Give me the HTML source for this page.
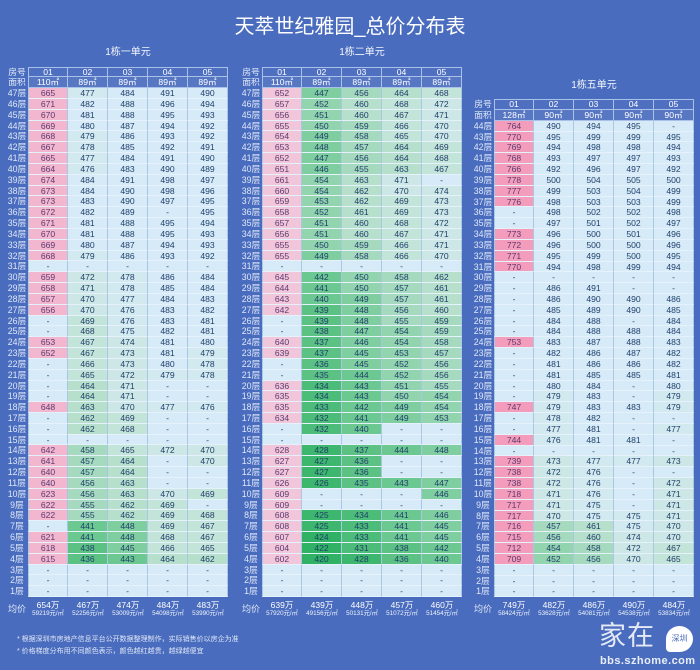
<!DOCTYPE html>
<html><head><meta charset="utf-8">
<style>
html,body{margin:0;padding:0}
body{width:700px;height:670px;background:#4a6cbe;position:relative;overflow:hidden;font-family:"Liberation Sans","Noto Sans CJK SC",sans-serif;}
.title{position:absolute;left:0;width:700px;top:16px;text-align:center;color:#fff;font-size:20px;line-height:22px;}
.sub{position:absolute;width:200px;text-align:center;color:#f2f6fd;font-size:10px;line-height:12px;}
.t{position:absolute;display:grid;grid-template-columns:22px repeat(5,40px);grid-auto-rows:10.84px;}
.t>*{font-style:normal;font-weight:normal;text-decoration:none;font-size:8.6px;line-height:10px;text-align:center;white-space:nowrap;box-sizing:border-box;}
.t i{color:#dfe8f8;font-size:8.8px;line-height:10.84px;}
.t u{color:#fff;border-right:1px solid #a9c0e8;border-bottom:1px solid #a9c0e8;line-height:10px;background:rgba(255,255,255,0.03)}
.t u.h{border-top:1px solid #a9c0e8;line-height:9px}
.t u.a{background:rgba(255,255,255,0.08)}
.t b{background:#d6ebf7;color:#22406c;border-right:1px solid #a9c6e2;border-bottom:1px solid #e6f2fb;}
.t>:nth-child(6n+2){border-left:1px solid #a9c6e2}
.t u:nth-child(6n+2){border-left:1px solid #a9c0e8}
.t1 .p{background:#f2b6cf;color:#5b3a6e}
.t2 .p{background:#f1c6da;color:#5b3a6e}
.t3 .p{background:#f39cbb;color:#5b3a6e}
.c0{background:#2fb264!important}
.c1{background:#3cb76d!important}
.c2{background:#4bbd78!important}
.c3{background:#5bc284!important}
.c4{background:#6cc891!important}
.c5{background:#7ece9f!important}
.c6{background:#91d4ae!important}
.c7{background:#a5dabe!important}
.c8{background:#b6dfcc!important}
.c9{background:#c3e4d9!important}
.c10{background:#cce7e5!important}
.c11{background:#d2e9ef!important}
.avg{position:absolute;display:grid;grid-template-columns:22px repeat(5,40px);height:22px;color:#fff;}
.avg i{font-style:normal;font-size:9px;line-height:22px;text-align:center;color:#dfe8f8}
.avg span{text-align:center;font-size:8.5px;line-height:9px;padding-top:3px;white-space:nowrap}
.avg small{display:block;font-size:6.3px;line-height:7px;white-space:nowrap;color:#eef3fc}
.note{position:absolute;left:17px;color:#dfe7f7;font-size:7px;line-height:9px;white-space:nowrap}
.logo{position:absolute;left:599px;top:618px;color:rgba(255,255,255,0.85);font-size:27px;line-height:32px;font-family:"Noto Sans CJK SC",sans-serif;letter-spacing:1px}
.bub{position:absolute;left:666px;top:626px;width:27px;height:26px;background:#fff;border-radius:50% 50% 50% 15%;color:#4a6cbe;font-size:8px;line-height:26px;text-align:center;font-family:"Noto Sans CJK SC",sans-serif}
.url{position:absolute;left:600px;top:655px;color:#e8eef8;font-size:11px;font-weight:bold;line-height:13px;letter-spacing:0.45px}
</style></head><body>
<div class="title">天萃世纪雅园_总价分布表</div>
<div class="sub" style="left:28px;top:47px">1栋一单元</div>
<div class="sub" style="left:262px;top:47px">1栋二单元</div>
<div class="sub" style="left:494px;top:80px">1栋五单元</div>

<div class="t t1" style="left:6px;top:66.5px">
<i>房号</i><u class="h">01</u><u class="h">02</u><u class="h">03</u><u class="h">04</u><u class="h">05</u>
<i>面积</i><u class="a">110㎡</u><u class="a">89㎡</u><u class="a">89㎡</u><u class="a">89㎡</u><u class="a">89㎡</u>
<i>47层</i><b class=p>665</b><b class=c11>477</b><b>484</b><b>491</b><b>490</b>
<i>46层</i><b class=p>671</b><b>482</b><b>488</b><b>496</b><b>494</b>
<i>45层</i><b class=p>670</b><b>481</b><b>488</b><b>495</b><b>493</b>
<i>44层</i><b class=p>669</b><b>480</b><b>487</b><b>494</b><b>492</b>
<i>43层</i><b class=p>668</b><b class=c11>479</b><b>486</b><b>493</b><b>492</b>
<i>42层</i><b class=p>667</b><b class=c11>478</b><b>485</b><b>492</b><b>491</b>
<i>41层</i><b class=p>665</b><b class=c11>477</b><b>484</b><b>491</b><b>490</b>
<i>40层</i><b class=p>664</b><b class=c11>476</b><b>483</b><b>490</b><b>489</b>
<i>39层</i><b class=p>674</b><b>484</b><b>491</b><b>498</b><b>497</b>
<i>38层</i><b class=p>673</b><b>484</b><b>490</b><b>498</b><b>496</b>
<i>37层</i><b class=p>673</b><b>483</b><b>490</b><b>497</b><b>495</b>
<i>36层</i><b class=p>672</b><b>482</b><b>489</b><b>-</b><b>495</b>
<i>35层</i><b class=p>671</b><b>481</b><b>488</b><b>495</b><b>494</b>
<i>34层</i><b class=p>670</b><b>481</b><b>488</b><b>495</b><b>493</b>
<i>33层</i><b class=p>669</b><b>480</b><b>487</b><b>494</b><b>493</b>
<i>32层</i><b class=p>668</b><b class=c11>479</b><b>486</b><b>493</b><b>492</b>
<i>31层</i><b>-</b><b>-</b><b>-</b><b>-</b><b>-</b>
<i>30层</i><b class=p>659</b><b class=c10>472</b><b class=c11>478</b><b>486</b><b>484</b>
<i>29层</i><b class=p>658</b><b class=c10>471</b><b class=c11>478</b><b>485</b><b>484</b>
<i>28层</i><b class=p>657</b><b class=c10>470</b><b class=c11>477</b><b>484</b><b>483</b>
<i>27层</i><b class=p>656</b><b class=c10>470</b><b class=c11>476</b><b>483</b><b>482</b>
<i>26层</i><b>-</b><b class=c9>469</b><b class=c11>476</b><b>483</b><b>481</b>
<i>25层</i><b>-</b><b class=c9>468</b><b class=c11>475</b><b>482</b><b>481</b>
<i>24层</i><b class=p>653</b><b class=c9>467</b><b class=c10>474</b><b>481</b><b>480</b>
<i>23层</i><b class=p>652</b><b class=c9>467</b><b class=c10>473</b><b>481</b><b class=c11>479</b>
<i>22层</i><b>-</b><b class=c9>466</b><b class=c10>473</b><b>480</b><b class=c11>478</b>
<i>21层</i><b>-</b><b class=c9>465</b><b class=c10>472</b><b class=c11>479</b><b class=c11>478</b>
<i>20层</i><b>-</b><b class=c8>464</b><b class=c10>471</b><b>-</b><b>-</b>
<i>19层</i><b>-</b><b class=c8>464</b><b class=c10>471</b><b>-</b><b>-</b>
<i>18层</i><b class=p>648</b><b class=c8>463</b><b class=c10>470</b><b class=c11>477</b><b class=c11>476</b>
<i>17层</i><b>-</b><b class=c8>462</b><b class=c9>469</b><b>-</b><b>-</b>
<i>16层</i><b>-</b><b class=c8>462</b><b class=c9>468</b><b>-</b><b>-</b>
<i>15层</i><b>-</b><b>-</b><b>-</b><b>-</b><b>-</b>
<i>14层</i><b class=p>642</b><b class=c7>458</b><b class=c9>465</b><b class=c10>472</b><b class=c10>470</b>
<i>13层</i><b class=p>641</b><b class=c7>457</b><b class=c8>464</b><b>-</b><b class=c10>470</b>
<i>12层</i><b class=p>640</b><b class=c7>457</b><b class=c8>464</b><b>-</b><b>-</b>
<i>11层</i><b class=p>640</b><b class=c7>456</b><b class=c8>463</b><b>-</b><b>-</b>
<i>10层</i><b class=p>623</b><b class=c7>456</b><b class=c8>463</b><b class=c10>470</b><b class=c9>469</b>
<i>9层</i><b class=p>622</b><b class=c7>455</b><b class=c8>462</b><b class=c9>469</b><b>-</b>
<i>8层</i><b class=p>622</b><b class=c7>455</b><b class=c8>462</b><b class=c9>469</b><b class=c9>468</b>
<i>7层</i><b>-</b><b class=c4>441</b><b class=c5>448</b><b class=c9>469</b><b class=c9>467</b>
<i>6层</i><b class=p>621</b><b class=c4>441</b><b class=c5>448</b><b class=c9>468</b><b class=c9>467</b>
<i>5层</i><b class=p>618</b><b class=c3>438</b><b class=c5>445</b><b class=c9>466</b><b class=c9>465</b>
<i>4层</i><b class=p>615</b><b class=c3>436</b><b class=c4>443</b><b class=c8>464</b><b class=c8>462</b>
<i>3层</i><b>-</b><b>-</b><b>-</b><b>-</b><b>-</b>
<i>2层</i><b>-</b><b>-</b><b>-</b><b>-</b><b>-</b>
<i>1层</i><b>-</b><b>-</b><b>-</b><b>-</b><b>-</b>
</div>
<div class="avg" style="left:6px;top:598px"><i>均价</i><span>654万<small>59219元/㎡</small></span><span>467万<small>52256元/㎡</small></span><span>474万<small>53009元/㎡</small></span><span>484万<small>54098元/㎡</small></span><span>483万<small>53990元/㎡</small></span></div>

<div class="t t2" style="left:240px;top:66.5px">
<i>房号</i><u class="h">01</u><u class="h">02</u><u class="h">03</u><u class="h">04</u><u class="h">05</u>
<i>面积</i><u class="a">110㎡</u><u class="a">89㎡</u><u class="a">89㎡</u><u class="a">89㎡</u><u class="a">89㎡</u>
<i>47层</i><b class=p>652</b><b class=c5>447</b><b class=c7>456</b><b class=c8>464</b><b class=c9>468</b>
<i>46层</i><b class=p>657</b><b class=c6>452</b><b class=c8>460</b><b class=c9>468</b><b class=c10>472</b>
<i>45层</i><b class=p>656</b><b class=c6>451</b><b class=c8>460</b><b class=c9>467</b><b class=c10>471</b>
<i>44层</i><b class=p>655</b><b class=c6>450</b><b class=c7>459</b><b class=c9>466</b><b class=c10>470</b>
<i>43层</i><b class=p>654</b><b class=c5>449</b><b class=c7>458</b><b class=c9>465</b><b class=c10>470</b>
<i>42层</i><b class=p>653</b><b class=c5>448</b><b class=c7>457</b><b class=c8>464</b><b class=c9>469</b>
<i>41层</i><b class=p>652</b><b class=c5>447</b><b class=c7>456</b><b class=c8>464</b><b class=c9>468</b>
<i>40层</i><b class=p>651</b><b class=c5>446</b><b class=c7>455</b><b class=c8>463</b><b class=c9>467</b>
<i>39层</i><b class=p>661</b><b class=c6>454</b><b class=c8>463</b><b class=c10>471</b><b>-</b>
<i>38层</i><b class=p>660</b><b class=c6>454</b><b class=c8>462</b><b class=c10>470</b><b class=c10>474</b>
<i>37层</i><b class=p>659</b><b class=c6>453</b><b class=c8>462</b><b class=c9>469</b><b class=c10>473</b>
<i>36层</i><b class=p>658</b><b class=c6>452</b><b class=c8>461</b><b class=c9>469</b><b class=c10>473</b>
<i>35层</i><b class=p>657</b><b class=c6>451</b><b class=c8>460</b><b class=c9>468</b><b class=c10>472</b>
<i>34层</i><b class=p>656</b><b class=c6>451</b><b class=c8>460</b><b class=c9>467</b><b class=c10>471</b>
<i>33层</i><b class=p>655</b><b class=c6>450</b><b class=c7>459</b><b class=c9>466</b><b class=c10>471</b>
<i>32层</i><b class=p>655</b><b class=c5>449</b><b class=c7>458</b><b class=c9>466</b><b class=c10>470</b>
<i>31层</i><b>-</b><b>-</b><b>-</b><b>-</b><b>-</b>
<i>30层</i><b class=p>645</b><b class=c4>442</b><b class=c6>450</b><b class=c7>458</b><b class=c8>462</b>
<i>29层</i><b class=p>644</b><b class=c4>441</b><b class=c6>450</b><b class=c7>457</b><b class=c8>461</b>
<i>28层</i><b class=p>643</b><b class=c4>440</b><b class=c5>449</b><b class=c7>457</b><b class=c8>461</b>
<i>27层</i><b class=p>642</b><b class=c3>439</b><b class=c5>448</b><b class=c7>456</b><b class=c8>460</b>
<i>26层</i><b>-</b><b class=c3>439</b><b class=c5>448</b><b class=c7>455</b><b class=c7>459</b>
<i>25层</i><b>-</b><b class=c3>438</b><b class=c5>447</b><b class=c6>454</b><b class=c7>459</b>
<i>24层</i><b class=p>640</b><b class=c3>437</b><b class=c5>446</b><b class=c6>454</b><b class=c7>458</b>
<i>23层</i><b class=p>639</b><b class=c3>437</b><b class=c5>445</b><b class=c6>453</b><b class=c7>457</b>
<i>22层</i><b>-</b><b class=c3>436</b><b class=c5>445</b><b class=c6>452</b><b class=c7>456</b>
<i>21层</i><b>-</b><b class=c3>435</b><b class=c4>444</b><b class=c6>452</b><b class=c7>456</b>
<i>20层</i><b class=p>636</b><b class=c2>434</b><b class=c4>443</b><b class=c6>451</b><b class=c7>455</b>
<i>19层</i><b class=p>635</b><b class=c2>434</b><b class=c4>443</b><b class=c6>450</b><b class=c6>454</b>
<i>18层</i><b class=p>635</b><b class=c2>433</b><b class=c4>442</b><b class=c5>449</b><b class=c6>454</b>
<i>17层</i><b class=p>634</b><b class=c2>432</b><b class=c4>441</b><b class=c5>449</b><b class=c6>453</b>
<i>16层</i><b>-</b><b class=c2>432</b><b class=c4>440</b><b>-</b><b>-</b>
<i>15层</i><b>-</b><b>-</b><b>-</b><b>-</b><b>-</b>
<i>14层</i><b class=p>628</b><b class=c1>428</b><b class=c3>437</b><b class=c4>444</b><b class=c5>448</b>
<i>13层</i><b class=p>627</b><b class=c1>427</b><b class=c3>436</b><b>-</b><b>-</b>
<i>12层</i><b class=p>627</b><b class=c1>427</b><b class=c3>436</b><b>-</b><b>-</b>
<i>11层</i><b class=p>626</b><b class=c1>426</b><b class=c3>435</b><b class=c4>443</b><b class=c5>447</b>
<i>10层</i><b class=p>609</b><b>-</b><b>-</b><b>-</b><b class=c5>446</b>
<i>9层</i><b class=p>609</b><b>-</b><b>-</b><b>-</b><b>-</b>
<i>8层</i><b class=p>608</b><b class=c1>425</b><b class=c2>434</b><b class=c4>441</b><b class=c5>446</b>
<i>7层</i><b class=p>608</b><b class=c1>425</b><b class=c2>433</b><b class=c4>441</b><b class=c5>445</b>
<i>6层</i><b class=p>607</b><b class=c0>424</b><b class=c2>433</b><b class=c4>441</b><b class=c5>445</b>
<i>5层</i><b class=p>604</b><b class=c0>422</b><b class=c2>431</b><b class=c3>438</b><b class=c4>442</b>
<i>4层</i><b class=p>602</b><b class=c0>420</b><b class=c1>428</b><b class=c3>436</b><b class=c4>440</b>
<i>3层</i><b>-</b><b>-</b><b>-</b><b>-</b><b>-</b>
<i>2层</i><b>-</b><b>-</b><b>-</b><b>-</b><b>-</b>
<i>1层</i><b>-</b><b>-</b><b>-</b><b>-</b><b>-</b>
</div>
<div class="avg" style="left:240px;top:598px"><i>均价</i><span>639万<small>57920元/㎡</small></span><span>439万<small>49156元/㎡</small></span><span>448万<small>50131元/㎡</small></span><span>457万<small>51072元/㎡</small></span><span>460万<small>51454元/㎡</small></span></div>

<div class="t t3" style="left:472px;top:99.1px">
<i>房号</i><u class="h">01</u><u class="h">02</u><u class="h">03</u><u class="h">04</u><u class="h">05</u>
<i>面积</i><u class="a">128㎡</u><u class="a">90㎡</u><u class="a">90㎡</u><u class="a">90㎡</u><u class="a">90㎡</u>
<i>44层</i><b class=p>764</b><b>490</b><b>494</b><b>495</b><b>-</b>
<i>43层</i><b class=p>770</b><b>495</b><b>499</b><b>499</b><b>495</b>
<i>42层</i><b class=p>769</b><b>494</b><b>498</b><b>498</b><b>494</b>
<i>41层</i><b class=p>768</b><b>493</b><b>497</b><b>497</b><b>493</b>
<i>40层</i><b class=p>766</b><b>492</b><b>496</b><b>497</b><b>492</b>
<i>39层</i><b class=p>778</b><b>500</b><b>504</b><b>505</b><b>500</b>
<i>38层</i><b class=p>777</b><b>499</b><b>503</b><b>504</b><b>499</b>
<i>37层</i><b class=p>776</b><b>498</b><b>503</b><b>503</b><b>499</b>
<i>36层</i><b>-</b><b>498</b><b>502</b><b>502</b><b>498</b>
<i>35层</i><b>-</b><b>497</b><b>501</b><b>502</b><b>497</b>
<i>34层</i><b class=p>773</b><b>496</b><b>500</b><b>501</b><b>496</b>
<i>33层</i><b class=p>772</b><b>496</b><b>500</b><b>500</b><b>496</b>
<i>32层</i><b class=p>771</b><b>495</b><b>499</b><b>500</b><b>495</b>
<i>31层</i><b class=p>770</b><b>494</b><b>498</b><b>499</b><b>494</b>
<i>30层</i><b>-</b><b>-</b><b>-</b><b>-</b><b>-</b>
<i>29层</i><b>-</b><b>486</b><b>491</b><b>-</b><b>-</b>
<i>28层</i><b>-</b><b>486</b><b>490</b><b>490</b><b>486</b>
<i>27层</i><b>-</b><b>485</b><b>489</b><b>490</b><b>485</b>
<i>26层</i><b>-</b><b>484</b><b>488</b><b>-</b><b>484</b>
<i>25层</i><b>-</b><b>484</b><b>488</b><b>488</b><b>484</b>
<i>24层</i><b class=p>753</b><b>483</b><b>487</b><b>488</b><b>483</b>
<i>23层</i><b>-</b><b>482</b><b>486</b><b>487</b><b>482</b>
<i>22层</i><b>-</b><b>481</b><b>486</b><b>486</b><b>482</b>
<i>21层</i><b>-</b><b>481</b><b>485</b><b>485</b><b>481</b>
<i>20层</i><b>-</b><b>480</b><b>484</b><b>-</b><b>480</b>
<i>19层</i><b>-</b><b class=c11>479</b><b>483</b><b>-</b><b class=c11>479</b>
<i>18层</i><b class=p>747</b><b class=c11>479</b><b>483</b><b>483</b><b class=c11>479</b>
<i>17层</i><b>-</b><b class=c11>478</b><b>482</b><b>-</b><b>-</b>
<i>16层</i><b>-</b><b class=c11>477</b><b>481</b><b>-</b><b class=c11>477</b>
<i>15层</i><b class=p>744</b><b class=c11>476</b><b>481</b><b>481</b><b>-</b>
<i>14层</i><b>-</b><b>-</b><b>-</b><b>-</b><b>-</b>
<i>13层</i><b class=p>739</b><b class=c10>473</b><b class=c11>477</b><b class=c11>477</b><b class=c10>473</b>
<i>12层</i><b class=p>738</b><b class=c10>472</b><b class=c11>476</b><b>-</b><b>-</b>
<i>11层</i><b class=p>738</b><b class=c10>472</b><b class=c11>476</b><b>-</b><b class=c10>472</b>
<i>10层</i><b class=p>718</b><b class=c10>471</b><b class=c11>476</b><b>-</b><b class=c10>471</b>
<i>9层</i><b class=p>717</b><b class=c10>471</b><b class=c11>475</b><b>-</b><b class=c10>471</b>
<i>8层</i><b class=p>717</b><b class=c10>470</b><b class=c11>475</b><b class=c11>475</b><b class=c10>471</b>
<i>7层</i><b class=p>716</b><b class=c7>457</b><b class=c8>461</b><b class=c11>475</b><b class=c10>470</b>
<i>6层</i><b class=p>715</b><b class=c7>456</b><b class=c8>460</b><b class=c10>474</b><b class=c10>470</b>
<i>5层</i><b class=p>712</b><b class=c6>454</b><b class=c7>458</b><b class=c10>472</b><b class=c9>467</b>
<i>4层</i><b class=p>709</b><b class=c6>452</b><b class=c7>456</b><b class=c10>470</b><b class=c9>465</b>
<i>3层</i><b>-</b><b>-</b><b>-</b><b>-</b><b>-</b>
<i>2层</i><b>-</b><b>-</b><b>-</b><b>-</b><b>-</b>
<i>1层</i><b>-</b><b>-</b><b>-</b><b>-</b><b>-</b>
</div>
<div class="avg" style="left:472px;top:598px"><i>均价</i><span>749万<small>58424元/㎡</small></span><span>482万<small>53628元/㎡</small></span><span>486万<small>54081元/㎡</small></span><span>490万<small>54538元/㎡</small></span><span>484万<small>53834元/㎡</small></span></div>

<div class="note" style="top:634.5px">* 根据深圳市房地产信息平台公开数据整理制作，实际销售价以房企为准</div>
<div class="note" style="top:646.5px">* 价格梯度分布用不同颜色表示，颜色越红越贵，越绿越便宜</div>

<div class="logo">家在</div>
<div class="bub">深圳</div>
<div class="url">bbs.szhome.com</div>
</body></html>
